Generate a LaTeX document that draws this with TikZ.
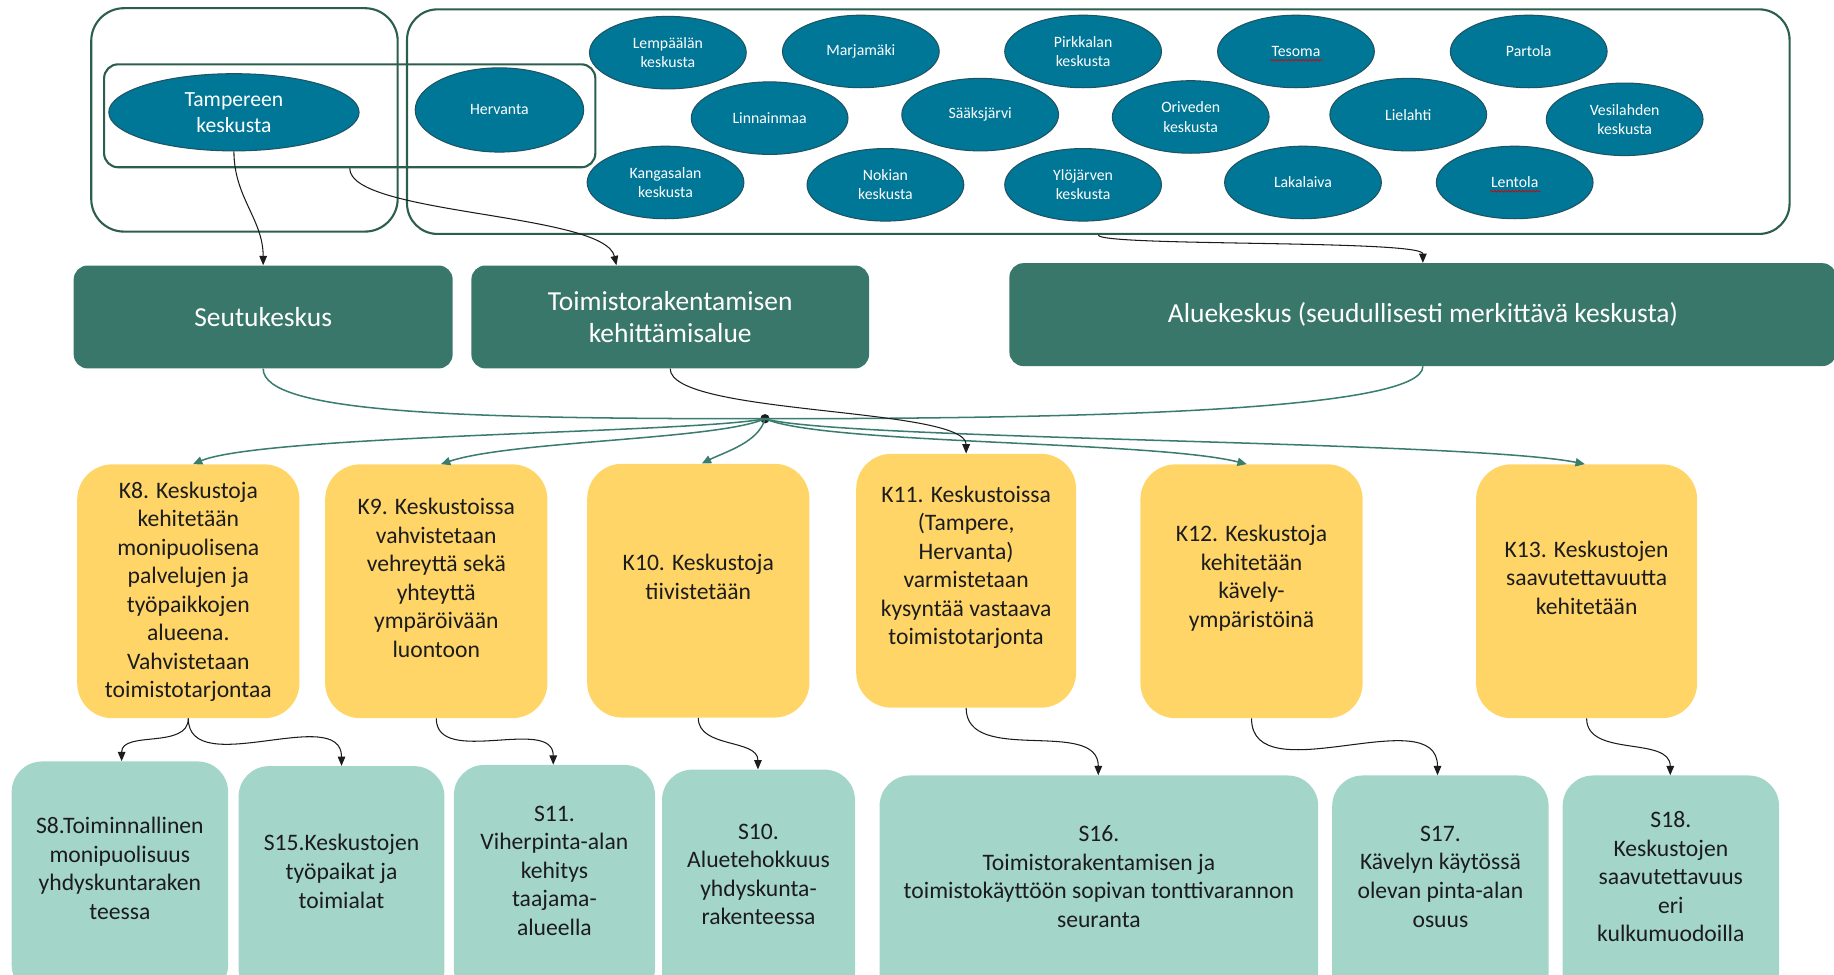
\documentclass[tikz,border=0pt]{standalone}
\usepackage{fontspec}
\setmainfont{Carlito}
\usetikzlibrary{arrows.meta,shapes.geometric,decorations.pathmorphing}
\definecolor{ellfill}{HTML}{007797}
\definecolor{elldraw}{HTML}{1E5363}
\definecolor{frame}{HTML}{2C5E50}
\definecolor{dgreen}{HTML}{387769}
\definecolor{yell}{HTML}{FFD568}
\definecolor{mint}{HTML}{A3D5C9}
\definecolor{tealline}{HTML}{3A7C6E}
\definecolor{ink}{HTML}{1C1C1C}

\begin{document}
\begin{tikzpicture}[x=1pt,y=-1pt,
  place/.style={ellipse, fill=ellfill, draw=elldraw, line width=0.9pt,
    minimum width=134pt, minimum height=62pt, inner sep=0pt, text=white,
    font=\fontsize{13.5}{16.5}\selectfont, align=center},
  group/.style={rectangle, draw=frame, line width=1.8pt, inner sep=0pt},
  hdr/.style={rectangle, rounded corners=12pt, fill=dgreen, text=white,
    inner sep=0pt, minimum height=88pt, align=center,
    font=\fontsize{23.5}{28}\selectfont},
  kbox/.style={rectangle, rounded corners=30pt, fill=yell, inner sep=0pt,
    minimum height=217pt},
  sbox/.style={rectangle, rounded corners=26pt, fill=mint, inner sep=0pt,
    minimum height=200pt},
  btext/.style={align=center, text=ink, inner sep=0pt,
    font=\fontsize{20.2}{24.4}\selectfont},
  tline/.style={draw=tealline, line width=1.3pt},
  tconn/.style={tline, -{Triangle[length=8pt,width=7pt]}},
  bconn/.style={draw=ink, line width=0.9pt, -{Triangle[length=8pt,width=6.5pt]}},
  squiggle/.style={draw=red!85!black, line width=0.6pt, decorate,
    decoration={snake, amplitude=0.7pt, segment length=3pt}}
]
\useasboundingbox (0,0) rectangle (1568,833);
\clip (0,0) rectangle (1568,833);

% ---- containers of the centres ----
\node[group, rounded corners=28pt, minimum width=262pt, minimum height=191pt] (leftgrp) at (209,102.5) {};
\node[group, rounded corners=26pt, minimum width=1182pt, minimum height=192pt] (rightgrp) at (939,104) {};
\node[group, rounded corners=12pt, minimum width=420pt, minimum height=88pt] (tamgrp) at (299,99) {};

% ---- centres ----
\node[place, minimum width=214pt, minimum height=66pt, font=\fontsize{18.5}{22}\selectfont] (tam) at (200,96) {Tampereen\\keskusta};
\node[place, minimum width=144pt, minimum height=72pt] (her) at (427,94) {Hervanta};

\node[place] (lem) at (571,45) {Lempäälän\\keskusta};
\node[place] (mar) at (736,44) {Marjamäki};
\node[place] (pir) at (926,44) {Pirkkalan\\keskusta};
\node[place] (tes) at (1108,44) {Tesoma};
\node[place] (par) at (1307,44) {Partola};
\node[place] (lin) at (658,101) {Linnainmaa};
\node[place] (saa) at (838,98) {Sääksjärvi};
\node[place] (ori) at (1018,100) {Oriveden\\keskusta};
\node[place] (lie) at (1204,98) {Lielahti};
\node[place] (ves) at (1389,102) {Vesilahden\\keskusta};
\node[place] (kan) at (569,156) {Kangasalan\\keskusta};
\node[place] (nok) at (757,158) {Nokian\\keskusta};
\node[place] (ylo) at (926,158) {Ylöjärven\\keskusta};
\node[place] (lak) at (1114,156) {Lakalaiva};
\node[place] (len) at (1295,156) {Lentola};

\draw[squiggle] ([xshift=-22pt,yshift=-7.5pt]tes.center) -- ([xshift=23pt,yshift=-7.5pt]tes.center);
\draw[squiggle] ([xshift=-21pt,yshift=-7.5pt]len.center) -- ([xshift=22pt,yshift=-7.5pt]len.center);

% ---- centre classes ----
\node[hdr, minimum width=324pt] (seu) at (225,271) {Seutukeskus};
\node[hdr, minimum width=340pt] (toim) at (573,271) {Toimistorakentamisen\\kehittämisalue};
\node[hdr, minimum width=707pt] (alue) at (1216.5,269) {Aluekeskus (seudullisesti merkittävä keskusta)};

% ---- objectives ----
\node[kbox, minimum width=190pt] (k8) at (161,505.5) {};
\node[kbox, minimum width=190pt] (k9) at (373,505.5) {};
\node[kbox, minimum width=190pt] (k10) at (597,505) {};
\node[kbox, minimum width=188pt] (k11) at (826,496.5) {};
\node[kbox, minimum width=190pt] (k12) at (1070,505.5) {};
\node[kbox, minimum width=189pt] (k13) at (1356.5,505.5) {};

\node[btext] (k8t) at (161,506) {K8. Keskustoja\\kehitetään\\monipuolisena\\palvelujen ja\\työpaikkojen\\alueena.\\Vahvistetaan\\toimistotarjontaa};
\node[btext] (k9t) at (373,494) {K9. Keskustoissa\\vahvistetaan\\vehreyttä sekä\\yhteyttä\\ympäröivään\\luontoon};
\node[btext] (k10t) at (597,493) {K10. Keskustoja\\tiivistetään};
\node[btext] (k11t) at (826,485) {K11. Keskustoissa\\(Tampere,\\Hervanta)\\varmistetaan\\kysyntää vastaava\\toimistotarjonta};
\node[btext] (k12t) at (1070,494.5) {K12. Keskustoja\\kehitetään\\kävely-\\ympäristöinä};
\node[btext] (k13t) at (1356.5,494) {K13. Keskustojen\\saavutettavuutta\\kehitetään};

% ---- indicators ----
\node[sbox, minimum width=185pt] (s8) at (102.5,751) {};
\node[sbox, minimum width=176pt] (s15) at (292,755) {};
\node[sbox, minimum width=172pt] (s11) at (474,754) {};
\node[sbox, minimum width=165pt] (s10) at (648.5,758) {};
\node[sbox, minimum width=375pt] (s16) at (939.5,763) {};
\node[sbox, minimum width=185pt] (s17) at (1231.5,763) {};
\node[sbox, minimum width=185pt] (s18) at (1428.5,763) {};

\node[btext] (s8t) at (102.5,742.5) {S8.Toiminnallinen\\monipuolisuus\\yhdyskuntaraken\\teessa};
\node[btext] (s15t) at (292,745) {S15.Keskustojen\\työpaikat ja\\toimialat};
\node[btext] (s11t) at (474,744.5) {S11.\\Viherpinta-alan\\kehitys\\taajama-\\alueella};
\node[btext] (s10t) at (648.5,747.5) {S10.\\Aluetehokkuus\\yhdyskunta-\\rakenteessa};
\node[btext] (s16t) at (939.5,749.5) {S16.\\Toimistorakentamisen ja\\toimistokäyttöön sopivan tonttivarannon\\seuranta};
\node[btext] (s17t) at (1231.5,749.5) {S17.\\Kävelyn käytössä\\olevan pinta-alan\\osuus};
\node[btext] (s18t) at (1428.5,749.5) {S18.\\Keskustojen\\saavutettavuus\\eri\\kulkumuodoilla};

% ---- junction ----
\node[circle, fill=ink, inner sep=0pt, minimum size=8pt] (hub) at (654,358) {};

% ---- centres to classes ----
\draw[bconn] (tam.south) to[out=-90,in=90] (seu.north);
\draw[bconn] (tamgrp.south) .. controls +(0,40) and +(-10,-45) .. ([xshift=-46pt]toim.north);
\draw[bconn] (rightgrp.south) .. controls +(0,10) and +(0,-20) .. (alue.north);

% ---- classes to junction ----
\draw[tline] (seu.south) .. controls +(0,38) and +(-260,0) .. (hub.center);
\draw[tline] (alue.south) .. controls +(0,35) and +(320,0) .. (hub.center);

% ---- junction to objectives ----
\draw[tconn] (hub.center) .. controls +(-60,12) and +(60,-25) .. ([xshift=4pt]k8.north);
\draw[tconn] (hub.center) .. controls +(-40,18) and +(60,-20) .. ([xshift=4pt]k9.north);
\draw[tconn] (hub.center) .. controls +(-5,20) and +(20,-10) .. ([xshift=3pt]k10.north);
\draw[tconn] (hub.center) .. controls +(50,22) and +(-80,-20) .. ([xshift=-4pt]k12.north);
\draw[tconn] (hub.center) .. controls +(60,18) and +(-100,-20) .. ([xshift=-1.5pt]k13.north);
\draw[bconn] (toim.south) .. controls +(0,40) and +(0,-40) .. (k11.north);

% ---- objectives to indicators ----
\draw[bconn] (k8.south) to[out=-90,in=90] ([xshift=1.5pt]s8.north);
\draw[bconn] (k8.south) to[out=-90,in=90] (s15.north);
\draw[bconn] (k9.south) to[out=-90,in=90] ([xshift=-1pt]s11.north);
\draw[bconn] (k10.south) to[out=-90,in=90] ([xshift=-0.5pt]s10.north);
\draw[bconn] (k11.south) to[out=-90,in=90] ([xshift=-0.5pt]s16.north);
\draw[bconn] (k12.south) to[out=-90,in=90] ([xshift=-2.5pt]s17.north);
\draw[bconn] (k13.south) to[out=-90,in=90] ([xshift=-0.5pt]s18.north);
\end{tikzpicture}
\end{document}
